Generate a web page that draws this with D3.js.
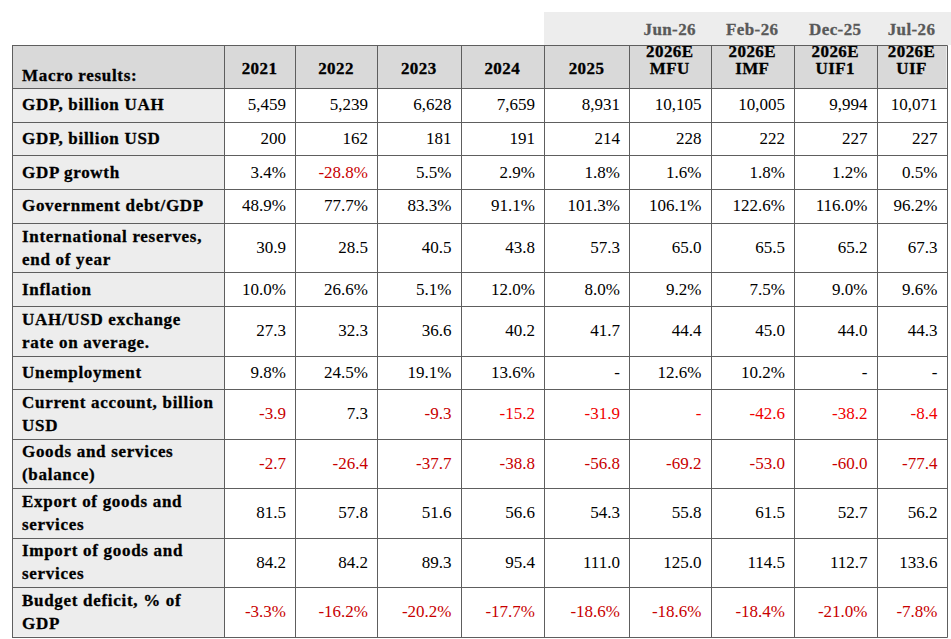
<!DOCTYPE html>
<html>
<head>
<meta charset="utf-8">
<script src="https://cdn.jsdelivr.net/npm/d3@7"></script>
<style>
  body { margin: 0; background: #fff; }
</style>
</head>
<body>
<div id="table"></div>
<script>

// column headers and the forecast dates above the last four columns
const COLUMNS = ["2021", "2022", "2023", "2024", "2025", "2026E\nMFU", "2026E\nIMF", "2026E\nUIF1", "2026E\nUIF"];
const FORECAST_DATES = ["Jun-26", "Feb-26", "Dec-25", "Jul-26"];
const CORNER_LABEL = "Macro results:";

// one array per table row (null = "-")
const GDP_UAH        = [5459, 5239, 6628, 7659, 8931, 10105, 10005, 9994, 10071];
const GDP_USD        = [200, 162, 181, 191, 214, 228, 222, 227, 227];
const GDP_GROWTH     = [3.4, -28.8, 5.5, 2.9, 1.8, 1.6, 1.8, 1.2, 0.5];
const GOV_DEBT       = [48.9, 77.7, 83.3, 91.1, 101.3, 106.1, 122.6, 116.0, 96.2];
const RESERVES       = [30.9, 28.5, 40.5, 43.8, 57.3, 65.0, 65.5, 65.2, 67.3];
const INFLATION      = [10.0, 26.6, 5.1, 12.0, 8.0, 9.2, 7.5, 9.0, 9.6];
const FX_RATE        = [27.3, 32.3, 36.6, 40.2, 41.7, 44.4, 45.0, 44.0, 44.3];
const UNEMPLOYMENT   = [9.8, 24.5, 19.1, 13.6, null, 12.6, 10.2, null, null];
const CURRENT_ACC    = [-3.9, 7.3, -9.3, -15.2, -31.9, null, -42.6, -38.2, -8.4];
const GOODS_BALANCE  = [-2.7, -26.4, -37.7, -38.8, -56.8, -69.2, -53.0, -60.0, -77.4];
const EXPORTS        = [81.5, 57.8, 51.6, 56.6, 54.3, 55.8, 61.5, 52.7, 56.2];
const IMPORTS        = [84.2, 84.2, 89.3, 95.4, 111.0, 125.0, 114.5, 112.7, 133.6];
const BUDGET_DEFICIT = [-3.3, -16.2, -20.2, -17.7, -18.6, -18.6, -18.4, -21.0, -7.8];

const ROW_LABELS = [
  "GDP, billion UAH", "GDP, billion USD", "GDP growth", "Government debt/GDP",
  "International reserves,\nend of year", "Inflation", "UAH/USD exchange\nrate on average.",
  "Unemployment", "Current account, billion\nUSD", "Goods and services\n(balance)",
  "Export of goods and\nservices", "Import of goods and\nservices", "Budget deficit, % of\nGDP"
];
const ROW_VALUES = [GDP_UAH, GDP_USD, GDP_GROWTH, GOV_DEBT, RESERVES, INFLATION, FX_RATE,
  UNEMPLOYMENT, CURRENT_ACC, GOODS_BALANCE, EXPORTS, IMPORTS, BUDGET_DEFICIT];
const ROW_FORMATS = ["int", "int", "pct", "pct", "dec", "pct", "dec", "pct", "dec", "dec", "dec", "dec", "pct"];

// ---- layout / style ----
const WIDTH = 951, HEIGHT = 639;
const LEFT = 12, TOP = 45;
const LABEL_W = 212;
const COL_W = [71, 82, 83.5, 83.5, 85, 81.5, 83.5, 82.5, 70];
const HEADER_H = 43, ROW_H1 = 33.7, ROW_H2 = 49.5;
const BAND_TOP = 12;
const FONT = 17;
const FAMILY = "'Liberation Serif', 'Times New Roman', Times, 'DejaVu Serif', serif";
const GRID = "#5e5e5e";
const RED = "#c80000", BRIGHT_RED = "#f00000";

const locale = d3.formatLocale({decimal: ".", thousands: ",", grouping: [3], currency: ["", ""], minus: "-"});
const FMT = {
  int: locale.format(",.0f"),
  dec: locale.format(".1f"),
  pct: (v) => locale.format(".1f")(v) + "%"
};

const svg = d3.select("#table").append("svg")
  .attr("width", WIDTH).attr("height", HEIGHT)
  .style("font-family", FAMILY);

// heavier bold, as in the source rendering
function boldText(sel, spacing) {
  return sel.attr("font-size", FONT).attr("font-weight", "bold")
    .attr("letter-spacing", spacing)
    .attr("stroke", "currentColor").attr("stroke-width", 0.3);
}

// column edges from widths
const colEdges = [LEFT, LEFT + LABEL_W].concat(Array.from(d3.cumsum(COL_W), (w) => LEFT + LABEL_W + w));
const X = d3.scaleOrdinal().domain(COLUMNS).range(colEdges.slice(1, -1));
const colWidth = d3.scaleOrdinal().domain(COLUMNS).range(COL_W);
const right = LEFT + LABEL_W + d3.sum(COL_W);

// row edges from line counts
const rowHeights = ROW_LABELS.map((l) => l.includes("\n") ? ROW_H2 : ROW_H1);
const Y = d3.scaleOrdinal().domain(ROW_LABELS)
  .range([0].concat(Array.from(d3.cumsum(rowHeights))).slice(0, -1).map((v) => TOP + HEADER_H + v));
const rowH = d3.scaleOrdinal().domain(ROW_LABELS).range(rowHeights);
const bottom = TOP + HEADER_H + d3.sum(rowHeights);

const px = (v) => Math.round(v) + 0.5;

// forecast date band
const fcCols = COLUMNS.slice(-FORECAST_DATES.length);
svg.append("rect")
  .attr("x", X(COLUMNS[4])).attr("y", BAND_TOP)
  .attr("width", WIDTH - X(COLUMNS[4])).attr("height", TOP - BAND_TOP)
  .attr("fill", "#ededed");
svg.selectAll(".fc-date")
  .data(FORECAST_DATES)
  .enter().append("text")
    .attr("class", "fc-date")
    .attr("x", (d, i) => X(fcCols[i]) + colWidth(fcCols[i]) / 2)
    .attr("y", BAND_TOP + 23)
    .attr("text-anchor", "middle")
    .style("color", "#595959").attr("fill", "#595959")
    .call(boldText, 0.4)
    .text((d) => d);

// backgrounds
svg.append("rect").attr("x", LEFT).attr("y", TOP)
  .attr("width", right - LEFT).attr("height", HEADER_H).attr("fill", "#d9d9d9");
svg.append("rect").attr("x", LEFT).attr("y", TOP + HEADER_H)
  .attr("width", LABEL_W).attr("height", bottom - TOP - HEADER_H).attr("fill", "#ededed");

// header texts
svg.append("text")
  .attr("x", LEFT + 10).attr("y", TOP + 36)
  .call(boldText, 0.7)
  .text(CORNER_LABEL);

const head = svg.selectAll(".head")
  .data(COLUMNS)
  .enter().append("text")
    .attr("class", "head")
    .attr("x", (d) => X(d) + colWidth(d) / 2)
    .attr("text-anchor", "middle")
    .call(boldText, 0.4);
head.selectAll("tspan")
  .data((d) => {
    const parts = d.split("\n");
    return parts.map((p, i) => ({p, y: TOP + 29 - (parts.length - 1 - i) * 17}));
  })
  .enter().append("tspan")
    .attr("x", function () { return d3.select(this.parentNode).attr("x"); })
    .attr("y", (d) => d.y)
    .text((d) => d.p);

// row labels
const labels = svg.selectAll(".row-label")
  .data(ROW_LABELS)
  .enter().append("text")
    .attr("class", "row-label")
    .call(boldText, 0.7);
labels.selectAll("tspan")
  .data((d) => {
    const parts = d.split("\n");
    const mid = Y(d) + rowH(d) / 2;
    return parts.map((p, i) => ({p, y: mid + 5.5 + (i - (parts.length - 1) / 2) * 23}));
  })
  .enter().append("tspan")
    .attr("x", LEFT + 10)
    .attr("y", (d) => d.y)
    .text((d) => d.p);

// values
const cells = [];
ROW_LABELS.forEach((label, r) => {
  ROW_VALUES[r].forEach((v, c) => cells.push({label, col: COLUMNS[c], c, r, v, fmt: ROW_FORMATS[r]}));
});

const cellColor = (d) => {
  if (d.r === 8 && d.c >= 3) return BRIGHT_RED;   // current account, later years
  if (d.v !== null && d.v < 0) return RED;
  return "#000";
};

svg.selectAll(".val")
  .data(cells)
  .enter().append("text")
    .attr("class", "val")
    .attr("x", (d) => X(d.col) + colWidth(d.col) - 9)
    .attr("y", (d) => Y(d.label) + rowH(d.label) / 2 + 5.5)
    .attr("text-anchor", "end")
    .attr("font-size", FONT)
    .attr("fill", cellColor)
    .text((d) => d.v === null ? "-" : FMT[d.fmt](d.v));

// grid lines
const hLines = [TOP, TOP + HEADER_H].concat(ROW_LABELS.map((l) => Y(l) + rowH(l)));
svg.selectAll(".hline")
  .data(hLines)
  .enter().append("line")
    .attr("x1", LEFT).attr("x2", px(right))
    .attr("y1", px).attr("y2", px)
    .attr("stroke", GRID).attr("stroke-width", 1);
svg.selectAll(".vline")
  .data(colEdges)
  .enter().append("line")
    .attr("x1", px).attr("x2", px)
    .attr("y1", px(TOP)).attr("y2", px(bottom))
    .attr("stroke", GRID).attr("stroke-width", 1);

</script>
</body>
</html>
